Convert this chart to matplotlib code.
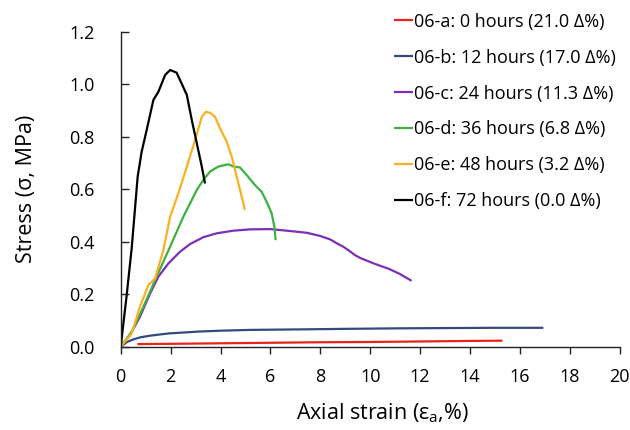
import matplotlib
matplotlib.use('Agg')
import matplotlib.pyplot as plt

######################################################################
## DATA

strainA = [0.67, 2.0, 4.0, 6.0, 8.0, 10.0, 12.0, 14.0, 15.3]
stressA = [0.010, 0.011, 0.013, 0.015, 0.017, 0.018, 0.020, 0.022, 0.023]

strainB = [0.0, 0.25, 0.51, 0.8, 1.18, 1.6, 1.98, 2.51, 3.18, 4.0, 5.18, 7.19, 9.0, 11.2, 13.0, 15.0, 16.94]
stressB = [0.0, 0.018, 0.028, 0.036, 0.042, 0.047, 0.051, 0.054, 0.058, 0.061, 0.064, 0.066, 0.068, 0.070, 0.071, 0.072, 0.072]

strainC = [0.0, 0.37, 0.77, 1.18, 1.51, 1.91, 2.38, 2.78, 3.31, 3.85, 4.52, 5.18, 5.99,
           6.65, 7.46, 7.99, 8.39, 8.66, 8.92, 9.12, 9.39, 9.6, 10.12, 10.79, 11.19, 11.66]
stressC = [0.0, 0.044, 0.114, 0.203, 0.267, 0.317, 0.362, 0.391, 0.417, 0.432, 0.442, 0.447, 0.448,
           0.442, 0.434, 0.422, 0.409, 0.394, 0.381, 0.368, 0.349, 0.338, 0.318, 0.295, 0.277, 0.251]

strainD = [0.0, 0.44, 0.91, 1.44, 1.98, 2.51, 3.05, 3.31, 3.58, 3.91, 4.32, 4.52, 4.78,
           5.05, 5.38, 5.65, 5.85, 6.05, 6.16, 6.21]
stressD = [0.0, 0.057, 0.152, 0.267, 0.381, 0.495, 0.597, 0.635, 0.667, 0.686, 0.695, 0.686, 0.683,
           0.654, 0.616, 0.590, 0.552, 0.508, 0.457, 0.406]

strainE = [0.0, 0.44, 0.77, 1.11, 1.38, 1.71, 1.98, 2.31, 2.65, 2.98, 3.25, 3.42, 3.58,
           3.78, 3.98, 4.25, 4.45, 4.65, 4.85, 4.98]
stressE = [0.0, 0.050, 0.152, 0.235, 0.260, 0.368, 0.495, 0.584, 0.686, 0.787, 0.876, 0.895, 0.891,
           0.876, 0.832, 0.781, 0.724, 0.648, 0.571, 0.521]

strainF = [0.0, 0.24, 0.44, 0.68, 0.84, 1.04, 1.31, 1.51, 1.78, 1.98, 2.24, 2.44, 2.65,
           2.85, 3.05, 3.25, 3.38]
stressF = [0.0, 0.197, 0.375, 0.648, 0.743, 0.825, 0.940, 0.971, 1.035, 1.054, 1.044, 1.003, 0.959,
           0.863, 0.775, 0.686, 0.622]

labels = ['06-a: 0 hours (21.0 \u0394%)',
          '06-b: 12 hours (17.0 \u0394%)',
          '06-c: 24 hours (11.3 \u0394%)',
          '06-d: 36 hours (6.8 \u0394%)',
          '06-e: 48 hours (3.2 \u0394%)',
          '06-f: 72 hours (0.0 \u0394%)']
colors = ['#e8231c', '#34497e', '#7b2fb8', '#3cb043', '#fbb021', '#000000']

xTicks = [0, 2, 4, 6, 8, 10, 12, 14, 16, 18, 20]
yTicks = [0.0, 0.2, 0.4, 0.6, 0.8, 1.0, 1.2]

######################################################################
## PLOT
plt.rcParams['font.family'] = ['Open Sans', 'DejaVu Sans']
plt.rcParams['mathtext.fontset'] = 'custom'
plt.rcParams['mathtext.rm'] = 'Open Sans'
plt.rcParams['mathtext.it'] = 'Open Sans'

fig = plt.figure(figsize=(6.3, 4.3), dpi=100)
ax = fig.add_axes([0.1916, 0.1937, 0.792, 0.7326])

series = [(strainA, stressA), (strainB, stressB), (strainC, stressC),
          (strainD, stressD), (strainE, stressE), (strainF, stressF)]
for (xs, ys), lab, col in zip(series, labels, colors):
    ax.plot(xs, ys, color=col, lw=1.6, label=lab, solid_capstyle='butt')

ax.set_xlim(0, 20)
ax.set_ylim(0, 1.2)
ax.set_xticks(xTicks)
ax.set_yticks(yTicks)
ax.set_xticklabels([str(t) for t in xTicks])
ax.set_yticklabels(['%.1f' % t for t in yTicks])

ax.spines['top'].set_visible(False)
ax.spines['right'].set_visible(False)
for s in ['left', 'bottom']:
    ax.spines[s].set_linewidth(1.0)
    ax.spines[s].set_color('#222222')
ax.tick_params(axis='x', direction='out', length=5, width=1.0, labelsize=13, pad=10, color='#222222')
ax.tick_params(axis='y', direction='in', length=6, width=1.0, labelsize=13, pad=19, color='#222222')

ax.set_xlabel('Axial strain (\u03b5$_\\mathrm{a}$,%)', fontsize=15.5)
ax.set_ylabel('Stress (\u03c3, MPa)', fontsize=15.5)
ax.xaxis.set_label_coords(0.524, -0.175)
ax.yaxis.set_label_coords(-0.168, 0.5)

leg = ax.legend(loc='upper left', bbox_to_anchor=(0.533, 1.083), frameon=False,
                fontsize=13, handlelength=1.05, handletextpad=0.05, labelspacing=0.99,
                borderaxespad=0)

fig.savefig('out.png', dpi=100)
